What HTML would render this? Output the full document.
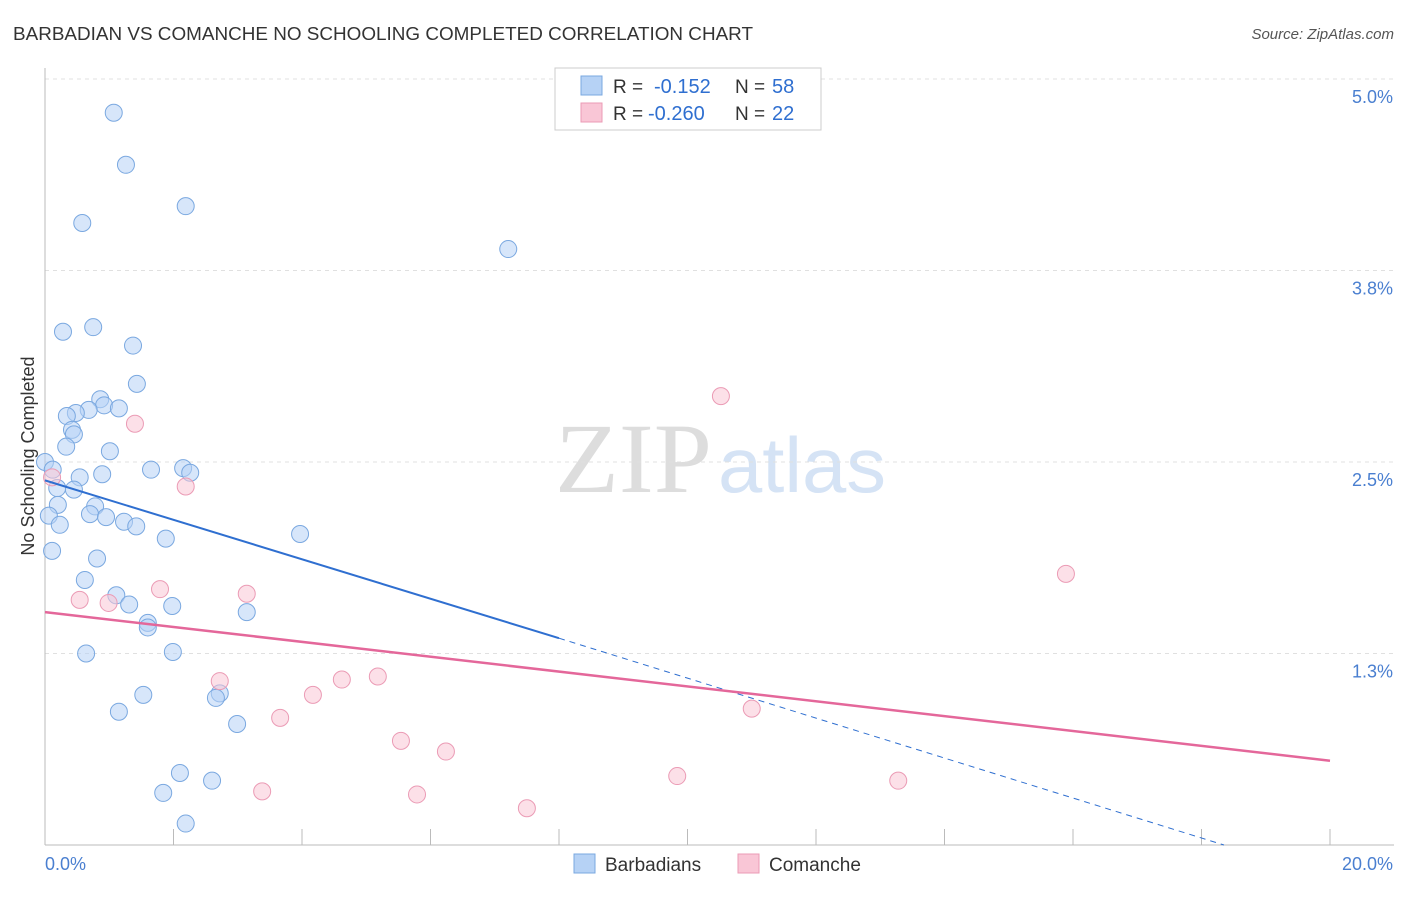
<!DOCTYPE html>
<html><head><meta charset="utf-8"><style>
body{margin:0;background:#fff;font-family:"Liberation Sans",sans-serif}
</style></head><body>
<svg width="1406" height="892" xmlns="http://www.w3.org/2000/svg" id="svg" font-family="Liberation Sans, sans-serif">
<text x="13" y="40" font-size="18" fill="#333" textLength="740" lengthAdjust="spacingAndGlyphs">BARBADIAN VS COMANCHE NO SCHOOLING COMPLETED CORRELATION CHART</text>
<text x="1394" y="39" font-size="15" fill="#555" text-anchor="end" font-style="italic">Source: ZipAtlas.com</text>
<text x="555" y="492" font-size="100" fill="#ddd" font-family="Liberation Serif, serif" textLength="157" lengthAdjust="spacingAndGlyphs">ZIP</text>
<text x="718" y="492" font-size="78" fill="#d5e3f5" textLength="168" lengthAdjust="spacingAndGlyphs">atlas</text>
<text transform="translate(34,456) rotate(-90)" font-size="18" fill="#333" text-anchor="middle">No Schooling Completed</text>
<g id="grid"></g><g id="marks"></g>
<g>
<rect x="555" y="68" width="266" height="62" fill="#fff" stroke="#ccc"/>
<rect x="581" y="76" width="21" height="19" fill="#b6d2f5" stroke="#7aa8e0"/>
<rect x="581" y="103" width="21" height="19" fill="#f9c6d6" stroke="#eb9bb5"/>
<text x="613" y="93" font-size="19" fill="#333">R =</text>
<text x="654" y="93" font-size="20" fill="#2f6fd0">-0.152</text>
<text x="735" y="93" font-size="19" fill="#333">N =</text>
<text x="772" y="93" font-size="20" fill="#2f6fd0">58</text>
<text x="613" y="120" font-size="19" fill="#333">R =</text>
<text x="648" y="120" font-size="20" fill="#2f6fd0">-0.260</text>
<text x="735" y="120" font-size="19" fill="#333">N =</text>
<text x="772" y="120" font-size="20" fill="#2f6fd0">22</text>
</g>
<g>
<rect x="574" y="854" width="21" height="19" fill="#b6d2f5" stroke="#7aa8e0"/>
<text x="605" y="871" font-size="19" fill="#333">Barbadians</text>
<rect x="738" y="854" width="21" height="19" fill="#f9c6d6" stroke="#eb9bb5"/>
<text x="769" y="871" font-size="19" fill="#333">Comanche</text>
</g>
</svg>
<script>
const yTicks=[5.0,3.75,2.5,1.25];
const yTickLabels=["5.0%","3.8%","2.5%","1.3%"];
const blueX=[1.07,1.26,0.58,2.19,7.21,0.28,0.75,1.37,1.43,0.86,0.92,0.68,0.48,0.34,1.15,0.42,0.45,0.33,1.01,0.0,0.12,0.54,0.89,1.65,2.15,2.26,0.19,0.45,0.20,0.78,0.70,0.06,0.95,1.23,1.42,0.23,3.97,1.88,0.11,0.81,0.62,1.11,1.31,1.98,3.14,1.60,1.60,0.64,1.99,1.53,2.72,2.66,1.15,2.99,2.10,2.60,1.84,2.19];
const blueY=[4.78,4.44,4.06,4.17,3.89,3.35,3.38,3.26,3.01,2.91,2.87,2.84,2.82,2.80,2.85,2.71,2.68,2.60,2.57,2.50,2.45,2.40,2.42,2.45,2.46,2.43,2.33,2.32,2.22,2.21,2.16,2.15,2.14,2.11,2.08,2.09,2.03,2.00,1.92,1.87,1.73,1.63,1.57,1.56,1.52,1.45,1.42,1.25,1.26,0.98,0.99,0.96,0.87,0.79,0.47,0.42,0.34,0.14];
const pinkX=[0.11,1.40,2.19,10.52,0.54,1.79,0.99,3.14,15.89,2.72,4.62,5.18,4.17,3.66,11.00,5.54,6.24,3.38,5.79,7.50,9.84,13.28];
const pinkY=[2.40,2.75,2.34,2.93,1.60,1.67,1.58,1.64,1.77,1.07,1.08,1.10,0.98,0.83,0.89,0.68,0.61,0.35,0.33,0.24,0.45,0.42];
const blueLine=[[0,2.38],[8,1.35],[18.35,0]];
const pinkLine=[[0,1.52],[20,0.55]];
const X=v=>45+v/20*1285, Y=v=>845-v/5*766;
const NS="http://www.w3.org/2000/svg";
const g=document.getElementById('grid'),m=document.getElementById('marks');
function el(t,a,p){const e=document.createElementNS(NS,t);for(const k in a)e.setAttribute(k,a[k]);p.appendChild(e);return e;}
yTicks.forEach((t,i)=>{const l=el('line',{x1:45,x2:1394,y1:Y(t),y2:Y(t),stroke:'#e0e0e0','stroke-dasharray':'4,4'},g);


const tx=el('text',{x:1393,y:Y(t)+24,'font-size':18,fill:'#4a7fd0','text-anchor':'end'},g);tx.textContent=yTickLabels[i];

});
const ax=el('line',{x1:45,x2:45,y1:68,y2:845,stroke:'#bbb'},g);


const bx=el('line',{x1:45,x2:1394,y1:845,y2:845,stroke:'#bbb'},g);


for(let i=0;i<=10;i++){const t=el('line',{x1:X(i*2),x2:X(i*2),y1:829,y2:845,stroke:'#bbb'},g);

}
[["0.0%",45,'start'],["20.0%",1393,'end']].forEach(d=>{const t=el('text',{x:d[1],y:870,'font-size':18,fill:'#4a7fd0','text-anchor':d[2]},g);t.textContent=d[0];

});
blueX.forEach((v,i)=>{const c=el('circle',{cx:X(v),cy:Y(blueY[i]),r:8.5,fill:'#b6d2f5','fill-opacity':0.55,stroke:'#7aa8e0'},m);

});
pinkX.forEach((v,i)=>{const c=el('circle',{cx:X(v),cy:Y(pinkY[i]),r:8.5,fill:'#f9c6d6','fill-opacity':0.55,stroke:'#eb9bb5'},m);

});
let l1=el('line',{x1:X(blueLine[0][0]),y1:Y(blueLine[0][1]),x2:X(blueLine[1][0]),y2:Y(blueLine[1][1]),stroke:'#2f6fd0','stroke-width':2},m);


let l2=el('line',{x1:X(blueLine[1][0]),y1:Y(blueLine[1][1]),x2:X(blueLine[2][0]),y2:Y(blueLine[2][1]),stroke:'#2f6fd0','stroke-width':1,'stroke-dasharray':'6,5'},m);


let l3=el('line',{x1:X(pinkLine[0][0]),y1:Y(pinkLine[0][1]),x2:X(pinkLine[1][0]),y2:Y(pinkLine[1][1]),stroke:'#e4679a','stroke-width':2.5},m);


</script>
</body></html>
